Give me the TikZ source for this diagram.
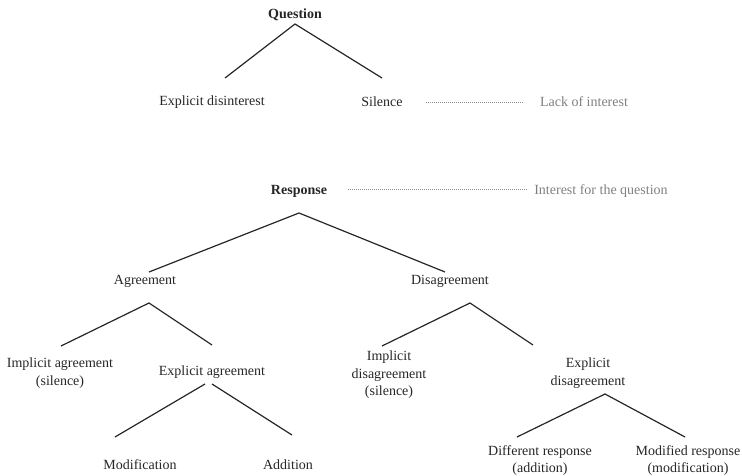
\documentclass[tikz,border=0pt]{standalone}
\usepackage{fontspec}
\setmainfont{Liberation Serif}
\begin{document}
\begin{tikzpicture}[x=1pt,y=-1pt,
  lbl/.style={font=\fontsize{14}{17.5}\selectfont, text=black!85, inner sep=0pt, align=center},
  hd/.style={lbl, font=\fontsize{14}{17.5}\selectfont\bfseries},
  note/.style={lbl, text=black!50},
  branch/.style={draw=black!85, line width=1.2pt},
  dots/.style={draw=black!45, line width=0.8pt, dash pattern=on 0.8pt off 1.2pt}]
\useasboundingbox (0,0) rectangle (742,476);

% Question part
\node[hd] (q) at (295,15) {Question};
\node[lbl] (expdis) at (212,102) {Explicit disinterest};
\node[lbl] (sil) at (382,102) {Silence};
\node[note] (lack) at (584,102) {Lack of interest};
\coordinate (qa) at (295,24);
\coordinate (qL) at (225,78);
\coordinate (qR) at (382,78);
\draw[branch] (qL) -- (qa) -- (qR);
\coordinate (d1a) at (426,102);
\coordinate (d1b) at (524,102);
\draw[dots] (d1a) -- (d1b);

% Response part
\node[hd] (resp) at (299,191) {Response};
\node[note] (intq) at (601,191) {Interest for the question};
\coordinate (d2a) at (348,189);
\coordinate (d2b) at (528,189);
\draw[dots] (d2a) -- (d2b);
\coordinate (ra) at (299,213);
\coordinate (rL) at (149,272);
\coordinate (rR) at (445,272);
\draw[branch] (rL) -- (ra) -- (rR);

\node[lbl] (agr) at (145,281) {Agreement};
\node[lbl] (dis) at (450,281) {Disagreement};

% Agreement subtree
\coordinate (aa) at (149,303);
\coordinate (aL) at (61,346);
\coordinate (aR) at (212,345);
\draw[branch] (aL) -- (aa) -- (aR);
\node[lbl] (impagr) at (60,373) {Implicit agreement\\(silence)};
\node[lbl] (expagr) at (212,372) {Explicit agreement};
\coordinate (ea1) at (205,384);
\coordinate (eL) at (115,437);
\coordinate (ea2) at (212,384);
\coordinate (eR) at (292,435);
\draw[branch] (ea1) -- (eL);
\draw[branch] (ea2) -- (eR);
\node[lbl] (modif) at (140,465) {Modification};
\node[lbl] (addit) at (288,465) {Addition};

% Disagreement subtree
\coordinate (da) at (470,303);
\coordinate (dL) at (382,346);
\coordinate (dR) at (533,345);
\draw[branch] (dL) -- (da) -- (dR);
\node[lbl] (impdis) at (389,375) {Implicit\\disagreement\\(silence)};
\node[lbl] (expdisg) at (588,373) {Explicit\\disagreement};
\coordinate (xa) at (605,394);
\coordinate (xL) at (517,437);
\coordinate (xR) at (685,437);
\draw[branch] (xL) -- (xa) -- (xR);
\node[lbl, font=\fontsize{14}{16.5}\selectfont] (diffr) at (540,460.5) {Different response\\(addition)};
\node[lbl, font=\fontsize{14}{16.5}\selectfont] (modr) at (688,460.5) {Modified response\\(modification)};
\end{tikzpicture}
\end{document}
